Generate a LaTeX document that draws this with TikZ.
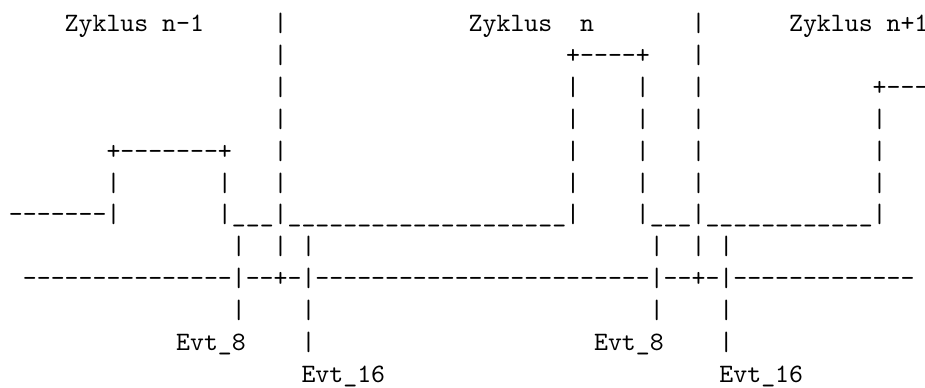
\documentclass[tikz,border=0pt]{standalone}
\ExplSyntaxOn
\cs_new:Npn \replc #1#2 { \prg_replicate:nn {#1} {#2} }
\ExplSyntaxOff
% a hyphen that never joins its neighbour into a ligature
\newcommand\hy{-\kern0pt}
% text fragment at column #2, row #3 of the character grid
\newcommand\frag[4]{\node[txt] (#1) at (#2+0.646,#3+1) {#4};}
\begin{document}
\begin{tikzpicture}[x=5.25pt,y=-12pt,
  txt/.style={font=\ttfamily,inner sep=0pt,outer sep=0pt,anchor=base west}]
\fill[white] (0,0) rectangle (66.4,12.18);
\useasboundingbox (0,0) rectangle (66.4,12.18);
% row 0: cycle headings
\frag{za}{4}{0}{Zyklus n-1}
\frag{r0a}{19}{0}{|}
\frag{zb}{33}{0}{Zyklus\ \ n}
\frag{r0b}{49}{0}{|}
\frag{zc}{56}{0}{Zyklus n+1}
% row 1
\frag{r1a}{19}{1}{|}
\frag{r1b}{40}{1}{+\replc{4}{\hy}+}
\frag{r1c}{49}{1}{|}
% row 2
\frag{r2a}{19}{2}{|}
\frag{r2b}{40}{2}{|}
\frag{r2c}{45}{2}{|}
\frag{r2d}{49}{2}{|}
\frag{r2e}{62}{2}{+\replc{3}{\hy}}
% row 3
\frag{r3a}{19}{3}{|}
\frag{r3b}{40}{3}{|}
\frag{r3c}{45}{3}{|}
\frag{r3d}{49}{3}{|}
\frag{r3e}{62}{3}{|}
% row 4
\frag{r4a}{7}{4}{+\replc{7}{\hy}+}
\frag{r4b}{19}{4}{|}
\frag{r4c}{40}{4}{|}
\frag{r4d}{45}{4}{|}
\frag{r4e}{49}{4}{|}
\frag{r4f}{62}{4}{|}
% row 5
\frag{r5a}{7}{5}{|}
\frag{r5b}{15}{5}{|}
\frag{r5c}{19}{5}{|}
\frag{r5d}{40}{5}{|}
\frag{r5e}{45}{5}{|}
\frag{r5f}{49}{5}{|}
\frag{r5g}{62}{5}{|}
% row 6: signal base line
\frag{r6a}{0}{6}{\replc{7}{\hy}|}
\frag{r6b}{15}{6}{|\_\_\_|\replc{20}{\_}|}
\frag{r6c}{45}{6}{|\_\_\_|\replc{12}{\_}|}
% row 7
\frag{r7a}{16}{7}{|}
\frag{r7b}{19}{7}{|}
\frag{r7c}{21}{7}{|}
\frag{r7d}{46}{7}{|}
\frag{r7e}{49}{7}{|}
\frag{r7f}{51}{7}{|}
% row 8: time axis
\frag{r8a}{1}{8}{\replc{15}{\hy}|\hy\hy+\hy|\replc{24}{\hy}|\hy\hy+\hy|\replc{13}{\hy}}
% row 9
\frag{r9a}{16}{9}{|}
\frag{r9b}{21}{9}{|}
\frag{r9c}{46}{9}{|}
\frag{r9d}{51}{9}{|}
% row 10: event labels
\frag{ea}{12}{10}{Evt\_8}
\frag{r10a}{21}{10}{|}
\frag{eb}{42}{10}{Evt\_8}
\frag{r10b}{51}{10}{|}
% row 11
\frag{ec}{21}{11}{Evt\_16}
\frag{ed}{51}{11}{Evt\_16}
\end{tikzpicture}
\end{document}
